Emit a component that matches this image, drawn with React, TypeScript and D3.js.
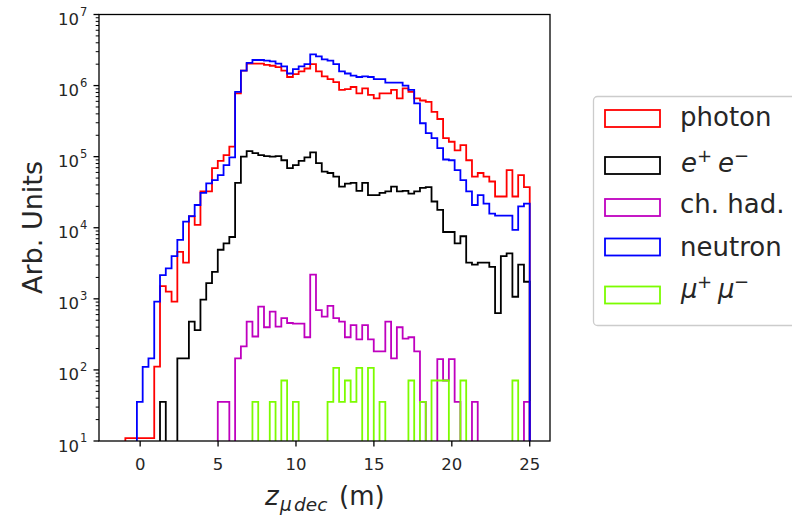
import React from "react";
import * as d3 from "d3";

// Histogram binning along the decay position (m)
const binLow = -1.32;
const binWidth = 0.3707;
const binCount = 71;

// Per-bin contents (arb. units), one entry per bin
const photon = [
  0, 11, 11, 11, 11, 11, 111, 1510, 1260, 912,
  4570, 3240, 14500, 11000, 32400, 32400, 69200, 87100, 105000, 138000,
  776000, 1620000, 2040000, 2040000, 2040000, 1950000, 1900000, 1820000, 1620000, 1320000,
  1450000, 1580000, 1740000, 2000000, 1580000, 1350000, 1230000, 1120000, 871000, 891000,
  955000, 776000, 912000, 741000, 661000, 776000, 776000, 871000, 661000, 912000,
  813000, 661000, 617000, 589000, 427000, 339000, 182000, 162000, 123000, 145000,
  89100, 52500, 58900, 52500, 44700, 27500, 27500, 64600, 27500, 55000,
  37200,
];

const electrons = [
  0, 0, 0, 0, 0, 0, 0, 35.5, 0, 0,
  145, 145, 479, 363, 977, 1660, 2400, 4900, 6030, 7410,
  42700, 100000, 120000, 112000, 105000, 102000, 100000, 102000, 89100, 69200,
  75900, 87100, 97700, 115000, 81300, 61700, 58900, 52500, 38000, 41700,
  42700, 33100, 42700, 28800, 28800, 30900, 32400, 38000, 32400, 33100,
  30200, 32400, 36300, 37200, 23400, 17800, 8710, 8710, 6030, 7590,
  3240, 3020, 3240, 3240, 2820, 631, 3980, 4370, 1070, 3020,
  1740,
];

const chargedHadrons = [
  0, 0, 0, 0, 0, 0, 0, 0, 0, 0,
  0, 0, 0, 0, 0, 0, 0, 35.5, 35.5, 0,
  145, 214, 479, 295, 776, 398, 661, 407, 537, 457,
  447, 447, 288, 2190, 692, 562, 794, 537, 479, 288,
  427, 269, 427, 269, 182, 182, 479, 145, 398, 275,
  288, 182, 35.5, 0, 0, 142, 71, 142, 35.5, 0,
  0, 35.5, 0, 0, 0, 0, 0, 0, 0, 0,
  35.5,
];

const neutron = [
  0, 0, 0, 35.5, 110, 145, 912, 2160, 2690, 3980,
  6760, 12200, 14600, 20900, 30900, 42200, 46800, 55000, 75900, 97700,
  813000, 1620000, 2090000, 2290000, 2290000, 2240000, 2190000, 2040000, 1860000, 1480000,
  1700000, 1860000, 2000000, 2750000, 2570000, 2340000, 2240000, 2000000, 1580000, 1480000,
  1380000, 1320000, 1350000, 1320000, 1230000, 1230000, 1100000, 1100000, 1100000, 1000000,
  871000, 562000, 295000, 214000, 182000, 132000, 91200, 89100, 64600, 46800,
  32400, 20900, 28800, 21900, 15800, 14800, 14800, 14800, 9330, 20000,
  21900,
];

const muons = [
  0, 0, 0, 0, 0, 0, 0, 0, 0, 0,
  0, 0, 0, 0, 0, 0, 0, 0, 0, 0,
  0, 0, 0, 35.5, 0, 0, 35.5, 0, 71, 0,
  35.5, 0, 0, 0, 0, 0, 35.5, 106.5, 35.5, 71,
  35.5, 106.5, 0, 106.5, 0, 35.5, 0, 0, 0, 0,
  71, 0, 35.5, 0, 71, 71, 71, 0, 0, 71,
  0, 0, 0, 0, 0, 0, 0, 0, 71, 0,
  0,
];

const xTicks = [0, 5, 10, 15, 20, 25];
const yExponents = [1, 2, 3, 4, 5, 6, 7];

type Series = { key: string; color: string; values: number[] };

const series: Series[] = [
  { key: "photon", color: "#ff0000", values: photon },
  { key: "ee", color: "#000000", values: electrons },
  { key: "had", color: "#bf00bf", values: chargedHadrons },
  { key: "neutron", color: "#0000ff", values: neutron },
  { key: "mumu", color: "#7cfc00", values: muons },
];

const W = 792;
const H = 516;
const plot = { left: 99, right: 550, top: 14.5, bottom: 441 };
const FONT = "'DejaVu Sans', sans-serif";

const x = d3.scaleLinear().domain([-2.64, 26.3]).range([plot.left, plot.right]);
const y = d3.scaleLog().domain([10, 1e7]).range([plot.bottom, plot.top]);

const edges = d3.range(binCount + 1).map((i) => binLow + i * binWidth);

function stepPath(values: number[]): string {
  const below = plot.bottom + 30;
  const yv = (v: number) => (v > 0 ? y(v) : below);
  const p = d3.path();
  p.moveTo(x(edges[0]), below);
  values.forEach((v, i) => {
    p.lineTo(x(edges[i]), yv(v));
    p.lineTo(x(edges[i + 1]), yv(v));
  });
  p.lineTo(x(edges[values.length]), below);
  return p.toString();
}

const minorTicks: number[] = [];
yExponents.slice(0, -1).forEach((e) => {
  for (let m = 2; m <= 9; m++) minorTicks.push(m * Math.pow(10, e));
});

function LegendLabel({ k, yBase }: { k: string; yBase: number }) {
  const fs = 26;
  const ss = 18;
  if (k === "ee" || k === "mumu") {
    const g = k === "ee" ? "e" : "\u03bc";
    return (
      <g fontFamily={FONT} fill="#262626">
        <text x={681} y={yBase} fontSize={fs} fontStyle="italic">{g}</text>
        <text x={697} y={yBase - 10} fontSize={ss}>+</text>
        <text x={718} y={yBase} fontSize={fs} fontStyle="italic">{g}</text>
        <text x={734} y={yBase - 10} fontSize={ss}>{"\u2212"}</text>
      </g>
    );
  }
  const label = k === "photon" ? "photon" : k === "had" ? "ch. had." : "neutron";
  return (
    <text x={680} y={yBase} fontFamily={FONT} fontSize={fs} fill="#262626">
      {label}
    </text>
  );
}

const legendRows: { key: string; cy: number; base: number }[] = [
  { key: "photon", cy: 118.5, base: 125.5 },
  { key: "ee", cy: 165.5, base: 171.5 },
  { key: "had", cy: 207.5, base: 213 },
  { key: "neutron", cy: 247, base: 255.5 },
  { key: "mumu", cy: 295, base: 297.5 },
];

export default function App() {
  return (
    <svg
      width={W}
      height={H}
      viewBox={`0 0 ${W} ${H}`}
      style={{ position: "absolute", left: 0, top: 0, background: "#fff" }}
    >
      <defs>
        <clipPath id="plot-clip">
          <rect
            x={plot.left}
            y={plot.top}
            width={plot.right - plot.left}
            height={plot.bottom - plot.top}
          />
        </clipPath>
      </defs>
      <rect x={0} y={0} width={W} height={H} fill="#fff" />

      {/* histograms */}
      <g clipPath="url(#plot-clip)">
        {series.map((s) => (
          <path
            key={s.key}
            d={stepPath(s.values)}
            fill="none"
            stroke={s.color}
            strokeWidth={1.8}
            strokeLinejoin="miter"
          />
        ))}
      </g>

      {/* frame */}
      <rect
        x={plot.left}
        y={plot.top}
        width={plot.right - plot.left}
        height={plot.bottom - plot.top}
        fill="none"
        stroke="#000"
        strokeWidth={1.3}
      />

      {/* x axis */}
      {xTicks.map((t) => (
        <g key={`xt${t}`}>
          <line x1={x(t)} x2={x(t)} y1={plot.bottom} y2={plot.bottom + 5.5} stroke="#000" strokeWidth={1.3} />
          <text
            x={x(t)}
            y={470}
            textAnchor="middle"
            fontFamily={FONT}
            fontSize={16.5}
            fill="#262626"
          >
            {t}
          </text>
        </g>
      ))}

      {/* y axis */}
      {minorTicks.map((v) => (
        <line key={`ym${v}`} x1={plot.left - 3.3} x2={plot.left} y1={y(v)} y2={y(v)} stroke="#000" strokeWidth={1} />
      ))}
      {yExponents.map((e) => {
        const yy = y(Math.pow(10, e));
        return (
          <g key={`yt${e}`}>
            <line x1={plot.left - 5.5} x2={plot.left} y1={yy} y2={yy} stroke="#000" strokeWidth={1.3} />
            <text x={79} y={yy + 10.5} textAnchor="end" fontFamily={FONT} fontSize={16.5} fill="#262626">
              10
            </text>
            <text x={80} y={yy + 1} fontFamily={FONT} fontSize={11.5} fill="#262626">
              {e}
            </text>
          </g>
        );
      })}

      {/* axis titles */}
      <text
        transform="translate(41.5,227.5) rotate(-90)"
        textAnchor="middle"
        fontFamily={FONT}
        fontSize={27}
        fill="#262626"
      >
        Arb. Units
      </text>
      <g fontFamily={FONT} fill="#262626">
        <text x={265} y={505} fontSize={26} fontStyle="italic">z</text>
        <text x={280} y={511} fontSize={18.5} fontStyle="italic">{"\u03bc"}</text>
        <text x={294} y={511} fontSize={18.5} fontStyle="italic">dec</text>
        <text x={339} y={505} fontSize={26}>(m)</text>
      </g>

      {/* legend */}
      <rect
        x={593.5}
        y={96.5}
        width={215}
        height={229}
        rx={4}
        fill="#fff"
        fillOpacity={0.8}
        stroke="#cccccc"
        strokeWidth={1.3}
      />
      {legendRows.map((r) => {
        const s = series.find((d) => d.key === r.key)!;
        return (
          <g key={`lg${r.key}`}>
            <rect x={605} y={r.cy - 8.5} width={55} height={17} fill="none" stroke={s.color} strokeWidth={1.8} />
            <LegendLabel k={r.key} yBase={r.base} />
          </g>
        );
      })}
    </svg>
  );
}
